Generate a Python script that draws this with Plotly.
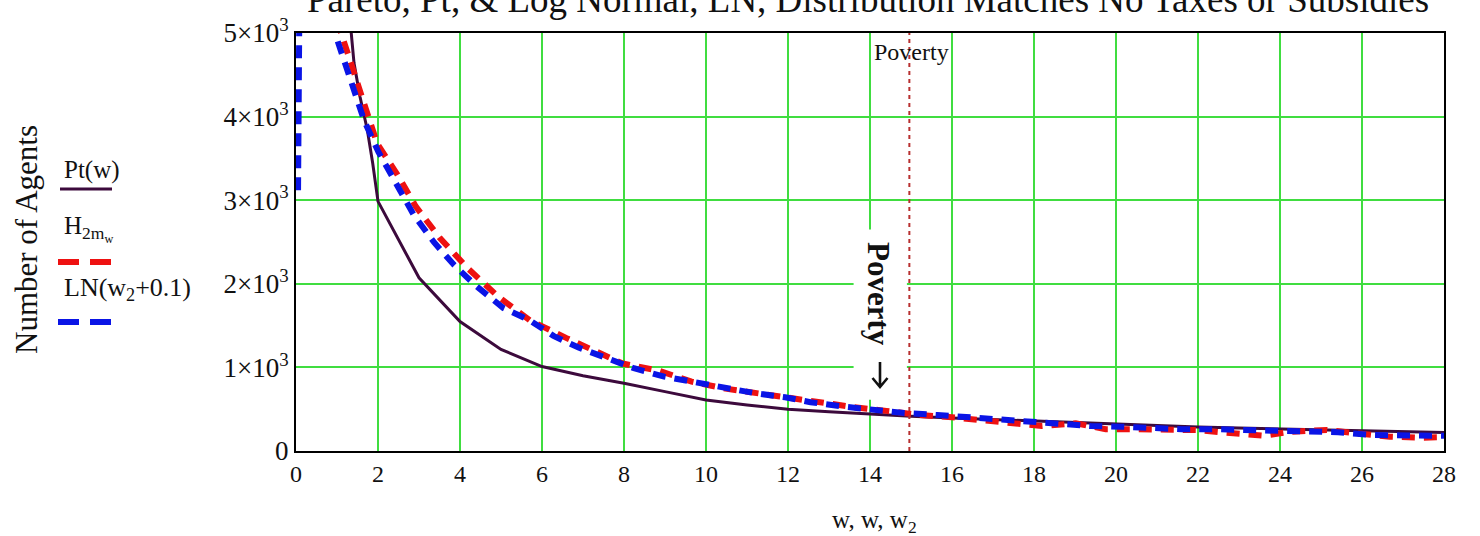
import plotly.graph_objects as go

# ---------------- data ----------------
pt_w = [1.30, 1.34, 1.415, 1.56, 1.74, 1.87, 1.97, 2.0, 3, 4, 5, 6, 7, 8, 9, 10, 11, 12, 13, 14,
        15, 16, 17, 18, 19, 20, 21, 22, 23, 24, 25, 26, 27, 28]
pt_vals = [5250, 5040, 4640, 4240, 3840, 3445, 3045, 2986, 2072, 1549, 1215, 1010, 900, 811, 710, 611,
           551, 500, 470, 440, 415, 395, 376, 358, 340, 322, 305, 287, 274, 262, 250, 240, 230, 222]

h2_w = [1.0, 1.195, 1.456, 1.72, 1.98, 2.46, 2.92, 3.51, 4.2, 4.93, 5.71, 6.6, 7.29, 7.97, 8.84,
        9.65, 10.42, 11.2, 11.93, 12.8, 13.6, 14.4, 15.2, 16.0, 16.66, 17.43, 18.19, 19.02, 19.75,
        20.5, 21.28, 21.95, 22.86, 23.59, 24.28, 25.14, 25.87, 26.68, 27.41, 28.0]
h2_vals = [5150, 4854, 4463, 4096, 3677, 3317, 2926, 2547, 2180, 1848, 1561, 1350, 1201, 1046, 962,
           830, 750, 691, 643, 570, 525, 480, 431, 403, 371, 332, 299, 331, 260,
           260, 260, 250, 212, 183, 231, 251, 212, 171, 159, 165]

ln_w = [0.05, 0.1, 0.5, 0.95, 1.13, 1.40, 1.66, 2.01, 2.41, 2.88, 3.37, 3.85, 4.38, 5.06, 5.71, 6.28,
        6.89, 7.54, 8.24, 8.98, 9.65, 10.42, 11.2, 11.93, 12.55, 13.35, 14.12, 14.83, 15.64, 16.44,
        17.09, 17.84, 18.68, 19.38, 20.14, 20.87, 21.6, 22.46, 23.23, 23.92, 24.65, 25.42, 26.24,
        26.97, 27.82, 28.0]
ln_vals = [3120, 6500, 9000, 5000, 4734, 4356, 3956, 3577, 3225, 2818, 2495, 2228, 1980, 1709, 1561, 1377,
           1237, 1122, 990, 890, 830, 750, 691, 643, 583, 531, 491, 455, 431, 403,
           379, 351, 331, 299, 291, 272, 260, 260, 251, 231, 231, 224, 192,
           192, 183, 182]

poverty = 14.96
x_ticks = list(range(0, 29, 2))
y_ticks = [0, 1000, 2000, 3000, 4000, 5000]
y_ticktext = ["0", "1×10<sup>3</sup>", "2×10<sup>3</sup>", "3×10<sup>3</sup>",
              "4×10<sup>3</sup>", "5×10<sup>3</sup>"]

title = "Pareto, Pt, & Log Normal, LN, Distribution Matches No Taxes or Subsidies"

# ---------------- layout geometry ----------------
W, H = 1480, 536
L, R, T, B = 296, 36, 33, 85
PW, PH = W - L - R, H - T - B
SERIF = "Liberation Serif, Times New Roman, serif"
INK = "#111111"
PURPLE = "#3c0a3c"
RED = "#ee1111"
BLUE = "#0a14e6"
GREEN = "#40dd40"


def px(xp):
    return (xp - L) / PW


def py(yp):
    return (H - B - yp) / PH


fig = go.Figure()
fig.add_trace(go.Scatter(x=pt_w, y=pt_vals, mode="lines", line=dict(color=PURPLE, width=3),
                         showlegend=False))
fig.add_trace(go.Scatter(x=h2_w, y=h2_vals, mode="lines",
                         line=dict(color=RED, width=6, dash="13px,9px"), showlegend=False))
fig.add_trace(go.Scatter(x=ln_w, y=ln_vals, mode="lines",
                         line=dict(color=BLUE, width=6, dash="13px,9px"), showlegend=False))

arrow_path = (f"M {px(880)},{py(362)} L {px(880)},{py(387)} "
              f"M {px(872.5)},{py(378)} L {px(880)},{py(387)} L {px(887.5)},{py(378)}")

shapes = [
    # white box behind the rotated Poverty label
    dict(type="rect", xref="x", yref="y", x0=13.6, x1=14.9, y0=612, y1=2650,
         fillcolor="white", line=dict(width=0), layer="between"),
    # poverty marker
    dict(type="line", xref="x", yref="paper", x0=poverty, x1=poverty, y0=0, y1=1,
         line=dict(color="#b83030", width=2, dash="4px,4px"), layer="above"),
    # arrow under the rotated label
    dict(type="path", xref="paper", yref="paper", path=arrow_path,
         line=dict(color=INK, width=2.6), layer="above"),
    # legend samples
    dict(type="line", xref="paper", yref="paper", x0=px(60), x1=px(112), y0=py(189), y1=py(189),
         line=dict(color=PURPLE, width=3)),
    dict(type="line", xref="paper", yref="paper", x0=px(58), x1=px(111), y0=py(262), y1=py(262),
         line=dict(color=RED, width=6, dash="21px,11px")),
    dict(type="line", xref="paper", yref="paper", x0=px(58), x1=px(111), y0=py(322), y1=py(322),
         line=dict(color=BLUE, width=6, dash="21px,11px")),
]

annotations = [
    dict(text=title, xref="paper", yref="paper", x=px(868), y=py(22), xanchor="center",
         yanchor="bottom", showarrow=False, font=dict(family=SERIF, size=37, color=INK)),
    dict(text="Poverty", xref="x", yref="y", x=14.05, y=(H - B - 52) / PH * 5000,
         xanchor="left", yanchor="middle", showarrow=False,
         font=dict(family=SERIF, size=24, color=INK)),
    dict(text="<b>Poverty</b>", xref="paper", yref="paper", x=px(879), y=py(294), textangle=90,
         xanchor="center", yanchor="middle", showarrow=False,
         font=dict(family=SERIF, size=31, color=INK)),
    dict(text="w, w, w<sub>2</sub>", xref="paper", yref="paper", x=px(874), y=py(521),
         xanchor="center", yanchor="middle", showarrow=False,
         font=dict(family=SERIF, size=25, color=INK)),
    dict(text="Number of Agents", xref="paper", yref="paper", x=px(26), y=py(240), textangle=-90,
         xanchor="center", yanchor="middle", showarrow=False,
         font=dict(family=SERIF, size=31, color=INK)),
    dict(text="Pt(w)", xref="paper", yref="paper", x=px(62), y=py(170), xanchor="left",
         yanchor="middle", showarrow=False, font=dict(family=SERIF, size=25, color=INK)),
    dict(text="H<sub>2m<sub>w</sub></sub>", xref="paper", yref="paper", x=px(62), y=py(229),
         xanchor="left", yanchor="middle", showarrow=False,
         font=dict(family=SERIF, size=25, color=INK)),
    dict(text="LN(w<sub>2</sub>+0.1)", xref="paper", yref="paper", x=px(62), y=py(289),
         xanchor="left", yanchor="middle", showarrow=False,
         font=dict(family=SERIF, size=26, color=INK)),
]

fig.update_layout(
    width=W, height=H, margin=dict(l=L, r=R, t=T, b=B),
    paper_bgcolor="white", plot_bgcolor="white",
    shapes=shapes, annotations=annotations, showlegend=False,
    font=dict(family=SERIF, color=INK),
)
fig.update_xaxes(range=[0, 28], tickvals=x_ticks, showgrid=True, gridcolor=GREEN, gridwidth=2,
                 zeroline=False, showline=True, linecolor="black", linewidth=2, mirror=True,
                 ticks="", tickfont=dict(family=SERIF, size=24, color=INK))
fig.update_yaxes(range=[0, 5000], tickvals=y_ticks, ticktext=y_ticktext, showgrid=True,
                 gridcolor=GREEN, gridwidth=2, zeroline=False, showline=True, linecolor="black",
                 linewidth=2, mirror=True, ticks="",
                 tickfont=dict(family=SERIF, size=27, color=INK))

fig.write_html("out.html")
